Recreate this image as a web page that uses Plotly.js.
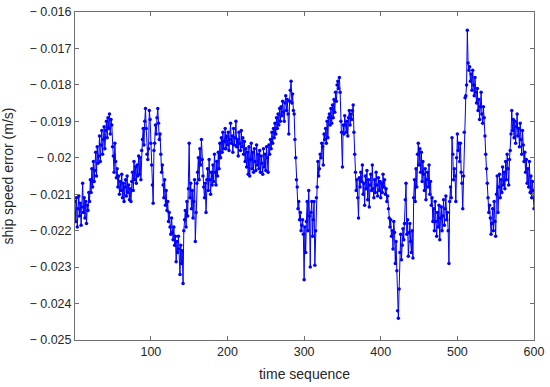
<!DOCTYPE html>
<html>
<head>
<meta charset="utf-8">
<script src="https://cdn.plot.ly/plotly-3.0.1.min.js"></script>
<style>html,body{margin:0;padding:0;background:#fff;}#chart{width:550px;height:387px;}</style>
</head>
<body>
<div id="chart"></div>
<script>
// ship speed error per time step (1..600)
const speedError = [
-0.02120,-0.02175,-0.02110,-0.02190,-0.02140,-0.02105,-0.02160,-0.02125,-0.02185,-0.02135,-0.02070,-0.02150,-0.02110,-0.02165,-0.02120,-0.02180,-0.02130,-0.02145,-0.02095,-0.02120,
-0.02060,-0.02095,-0.02030,-0.02080,-0.02010,-0.02065,-0.02035,-0.01985,-0.02050,-0.01970,-0.02015,-0.01995,-0.01940,-0.02010,-0.01965,-0.01925,-0.01990,-0.01950,-0.01915,-0.01975,
-0.01925,-0.01900,-0.01945,-0.01890,-0.01920,-0.01880,-0.01935,-0.01895,-0.01910,-0.01970,-0.01995,-0.02040,-0.01960,-0.02010,-0.02055,-0.02030,-0.02080,-0.02050,-0.02100,-0.02065,
-0.02090,-0.02045,-0.02110,-0.02070,-0.02120,-0.02080,-0.02060,-0.02105,-0.02050,-0.02095,-0.02075,-0.02115,-0.02085,-0.02120,-0.02065,-0.02040,-0.02090,-0.02010,-0.02060,-0.02025,
-0.02070,-0.02020,-0.02050,-0.01995,-0.02045,-0.02000,-0.02060,-0.01980,-0.01950,-0.01920,-0.01965,-0.01900,-0.01865,-0.01920,-0.01990,-0.02005,-0.01975,-0.01870,-0.01895,-0.01960,
-0.02020,-0.02075,-0.02125,-0.01980,-0.01960,-0.01910,-0.01935,-0.01890,-0.01865,-0.01905,-0.01950,-0.01935,-0.01990,-0.02040,-0.02020,-0.02075,-0.02110,-0.02060,-0.02130,-0.02090,
-0.02145,-0.02120,-0.02175,-0.02150,-0.02190,-0.02210,-0.02165,-0.02205,-0.02225,-0.02190,-0.02240,-0.02215,-0.02285,-0.02230,-0.02260,-0.02215,-0.02250,-0.02320,-0.02240,-0.02290,
-0.02255,-0.02345,-0.02200,-0.02170,-0.02145,-0.02190,-0.02120,-0.02160,-0.02085,-0.01960,-0.02110,-0.02070,-0.02140,-0.02090,-0.02165,-0.02120,-0.02060,-0.02230,-0.02150,-0.02070,
-0.02040,-0.02000,-0.02060,-0.01975,-0.02020,-0.01950,-0.02005,-0.02050,-0.02080,-0.02110,-0.02070,-0.02150,-0.02060,-0.02030,-0.02090,-0.02005,-0.02060,-0.02100,-0.02040,-0.02075,
-0.02020,-0.02065,-0.01990,-0.02040,-0.02075,-0.02010,-0.02050,-0.01985,-0.02030,-0.01960,-0.02000,-0.01945,-0.01985,-0.01930,-0.01975,-0.01955,-0.01920,-0.01975,-0.01940,-0.01965,
-0.01930,-0.01980,-0.01950,-0.01905,-0.01960,-0.01940,-0.01985,-0.01920,-0.01965,-0.01945,-0.01900,-0.01970,-0.01950,-0.01995,-0.01930,-0.01960,-0.01980,-0.01925,-0.01970,-0.01945,
-0.01990,-0.01955,-0.02010,-0.01975,-0.02025,-0.01985,-0.02045,-0.01970,-0.02050,-0.02005,-0.01960,-0.02030,-0.01985,-0.02040,-0.01975,-0.02010,-0.02035,-0.01965,-0.02020,-0.01990,
-0.02030,-0.01980,-0.02040,-0.01995,-0.02015,-0.02045,-0.01975,-0.02025,-0.01990,-0.02035,-0.01970,-0.02000,-0.02040,-0.01965,-0.01990,-0.01950,-0.01975,-0.01930,-0.01960,-0.01920,
-0.01945,-0.01905,-0.01935,-0.01890,-0.01920,-0.01880,-0.01910,-0.01865,-0.01900,-0.01860,-0.01885,-0.01845,-0.01875,-0.01900,-0.01850,-0.01830,-0.01870,-0.01840,-0.01880,-0.01935,
-0.01845,-0.01815,-0.01790,-0.01850,-0.01825,-0.01870,-0.01880,-0.01950,-0.02000,-0.02060,-0.02080,-0.02140,-0.02120,-0.02170,-0.02150,-0.02200,-0.02185,-0.02170,-0.02210,-0.02335,
-0.02190,-0.02260,-0.02175,-0.02120,-0.02200,-0.02090,-0.02160,-0.02300,-0.02150,-0.02120,-0.02215,-0.02170,-0.02120,-0.02295,-0.02200,-0.02110,-0.02080,-0.02010,-0.02050,-0.02030,
-0.01990,-0.02000,-0.01960,-0.01970,-0.02020,-0.01935,-0.01950,-0.01920,-0.01960,-0.01900,-0.01945,-0.01890,-0.01880,-0.01910,-0.01865,-0.01905,-0.01855,-0.01890,-0.01840,-0.01875,
-0.01820,-0.01845,-0.01800,-0.01790,-0.01810,-0.01780,-0.01820,-0.01900,-0.01930,-0.02025,-0.01910,-0.01935,-0.01885,-0.01910,-0.01930,-0.01900,-0.01940,-0.01890,-0.01870,-0.01910,
-0.01880,-0.01895,-0.01870,-0.01855,-0.01930,-0.01990,-0.02040,-0.02090,-0.02060,-0.02110,-0.02165,-0.02055,-0.02080,-0.02040,-0.02065,-0.02020,-0.02100,-0.02070,-0.02130,-0.02050,
-0.02085,-0.02035,-0.02115,-0.02060,-0.02135,-0.02075,-0.02045,-0.02090,-0.02020,-0.02085,-0.02110,-0.02060,-0.02095,-0.02040,-0.02075,-0.02105,-0.02055,-0.02090,-0.02065,-0.02110,
-0.02070,-0.02095,-0.02045,-0.02080,-0.02060,-0.02100,-0.02085,-0.02120,-0.02105,-0.02140,-0.02165,-0.02190,-0.02170,-0.02215,-0.02200,-0.02250,-0.02175,-0.02205,-0.02290,-0.02230,
-0.02310,-0.02420,-0.02440,-0.02360,-0.02260,-0.02210,-0.02280,-0.02240,-0.02195,-0.02225,-0.02180,-0.02115,-0.02070,-0.02210,-0.02170,-0.02270,-0.02205,-0.02180,-0.02230,-0.02260,
-0.02200,-0.02275,-0.02110,-0.02060,-0.02120,-0.02030,-0.02080,-0.01990,-0.01960,-0.02020,-0.01975,-0.02040,-0.01985,-0.02065,-0.02010,-0.02045,-0.02090,-0.02030,-0.02115,-0.02060,
-0.02040,-0.02080,-0.02020,-0.02100,-0.02065,-0.02130,-0.02110,-0.02175,-0.02140,-0.02200,-0.02120,-0.02175,-0.02215,-0.02150,-0.02190,-0.02130,-0.02225,-0.02165,-0.02135,-0.02200,
-0.02160,-0.02115,-0.02185,-0.02140,-0.02105,-0.02170,-0.02150,-0.02200,-0.02290,-0.02120,-0.02080,-0.02110,-0.01945,-0.01990,-0.02060,-0.02030,-0.02050,-0.02120,-0.02000,-0.01935,
-0.01980,-0.01960,-0.02010,-0.01960,-0.02040,-0.02070,-0.02140,-0.02050,-0.01930,-0.01835,-0.01830,-0.01800,-0.01650,-0.01740,-0.01760,-0.01750,-0.01790,-0.01770,-0.01815,-0.01760,
-0.01800,-0.01830,-0.01780,-0.01820,-0.01850,-0.01810,-0.01870,-0.01840,-0.01895,-0.01860,-0.01820,-0.01880,-0.01905,-0.01860,-0.01890,-0.01940,-0.01990,-0.02030,-0.02070,-0.02110,
-0.02150,-0.02130,-0.02165,-0.02210,-0.02180,-0.02140,-0.02200,-0.02120,-0.02175,-0.02215,-0.02100,-0.02050,-0.02150,-0.02080,-0.02045,-0.02110,-0.02060,-0.02095,-0.02025,-0.02075,
-0.02040,-0.02085,-0.02010,-0.02060,-0.01990,-0.02030,-0.02075,-0.02005,-0.01980,-0.01935,-0.01870,-0.01925,-0.01895,-0.01945,-0.01900,-0.01960,-0.01915,-0.01880,-0.01940,-0.01920,
-0.01970,-0.01905,-0.01950,-0.01990,-0.01925,-0.01965,-0.02010,-0.01985,-0.02040,-0.02005,-0.02070,-0.02030,-0.02080,-0.02010,-0.02095,-0.02050,-0.02110,-0.02065,-0.02090,-0.02140
];
const timeSeq = speedError.map((_, i) => i + 1);

const xTickVals = [100, 200, 300, 400, 500, 600];
const xTickText = ['100', '200', '300', '400', '500', '600'];
const yTickVals = [-0.016, -0.017, -0.018, -0.019, -0.020, -0.021, -0.022, -0.023, -0.024, -0.025];
const yTickText = ['\u2212 0.016', '\u2212 0.017', '\u2212 0.018', '\u2212 0.019', '\u2212 0.02',
                   '\u2212 0.021', '\u2212 0.022', '\u2212 0.023', '\u2212 0.024', '\u2212 0.025'];

const axisCommon = {
  showline: true, mirror: 'ticks', linecolor: '#6e6e6e', linewidth: 1,
  ticks: 'inside', ticklen: 4, tickwidth: 1, tickcolor: '#6e6e6e',
  showgrid: false, zeroline: false,
  tickfont: {family: 'Liberation Sans, Arial, sans-serif', size: 12.5, color: '#262626'}
};

const trace = {
  x: timeSeq, y: speedError, type: 'scatter', mode: 'lines+markers',
  line: {color: '#0000ff', width: 1},
  marker: {color: '#0000ff', size: 3.5}
};

const layout = {
  width: 550, height: 387,
  margin: {l: 75, r: 16, t: 12, b: 47},
  paper_bgcolor: '#ffffff', plot_bgcolor: '#ffffff',
  showlegend: false,
  xaxis: Object.assign({}, axisCommon, {
    range: [1, 600], tickvals: xTickVals, ticktext: xTickText,
    title: {text: 'time sequence', standoff: 11, font: {family: 'Liberation Sans, Arial, sans-serif', size: 14, color: '#262626'}}
  }),
  yaxis: Object.assign({}, axisCommon, {
    range: [-0.025, -0.016], tickvals: yTickVals, ticktext: yTickText,
    title: {text: 'ship speed error (m/s)', standoff: 12, font: {family: 'Liberation Sans, Arial, sans-serif', size: 14, color: '#262626'}}
  })
};

Plotly.newPlot('chart', [trace], layout, {displayModeBar: false, staticPlot: true});
</script>
</body>
</html>
